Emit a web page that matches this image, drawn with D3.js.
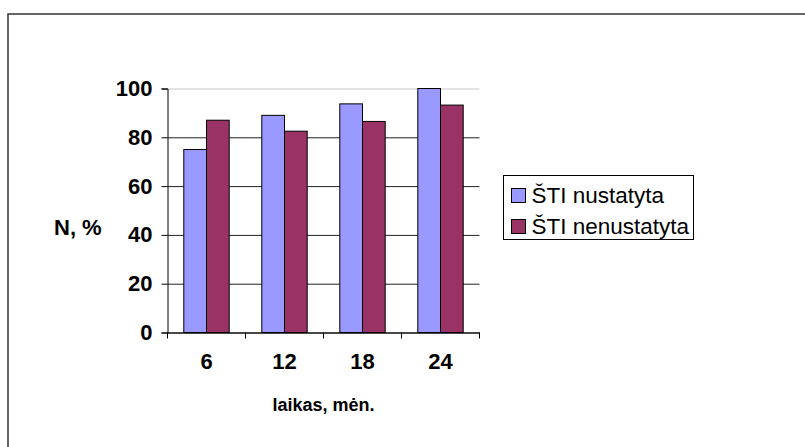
<!DOCTYPE html>
<html lang="lt">
<head>
<meta charset="UTF-8">
<title></title>
<script src="https://d3js.org/d3.v7.min.js"></script>
<style>
body { margin: 0; background: #fff; }
text { font-family: 'Liberation Sans', Arial, sans-serif; fill: #000; }
</style>
</head>
<body>
<svg width="805" height="447"></svg>
<script>
const categories = ['6', '12', '18', '24'];
const seriesNames = ['ŠTI nustatyta', 'ŠTI nenustatyta'];
const nustatyta = [75, 89, 93.7, 100];
const nenustatyta = [87, 82.5, 86.5, 93.2];
const yTicks = [0, 20, 40, 60, 80, 100];
const colors = ['#9999ff', '#993366'];

const data = categories.map((c, i) => ({cat: c, values: [nustatyta[i], nenustatyta[i]]}));

const svg = d3.select('svg');

// outer frame (only left and top edges are visible)
svg.append('path')
  .attr('d', 'M8,447V14H805')
  .attr('fill', 'none')
  .attr('stroke', '#333')
  .attr('stroke-width', 1.5);

const plotL = 167.5, plotR = 479.5, plotT = 88.5, plotB = 332.5;

const x0 = d3.scaleBand().domain(categories).range([plotL, plotR]);
const x1 = d3.scaleBand().domain(seriesNames).range([0, x0.bandwidth()]).paddingInner(0).paddingOuter(0.718);
const y = d3.scaleLinear().domain([0, 100]).range([plotB, plotT]);

// gridlines (the top one is faint in the original)
svg.append('g')
  .attr('transform', `translate(${plotL},0)`)
  .call(d3.axisLeft(y).tickValues(yTicks).tickSize(-(plotR - plotL)).tickFormat(''))
  .call(g => g.select('.domain').remove())
  .call(g => g.selectAll('line').attr('stroke', d => d === 100 ? '#c8c8c8' : '#222'));

// bars
const groups = svg.append('g').selectAll('g').data(data).enter().append('g')
  .attr('transform', d => `translate(${x0(d.cat)},0)`);
groups.selectAll('rect').data(d => d.values).enter().append('rect')
  .attr('x', (v, i) => x1(seriesNames[i]))
  .attr('y', v => y(v))
  .attr('width', x1.bandwidth())
  .attr('height', v => y(0) - y(v))
  .attr('fill', (v, i) => colors[i])
  .attr('stroke', '#000')
  .attr('stroke-width', 1);

// y axis
svg.append('g')
  .attr('transform', `translate(${plotL},0)`)
  .call(d3.axisLeft(y).tickValues(yTicks).tickSize(6).tickPadding(9))
  .call(g => g.select('.domain').attr('stroke', '#000'))
  .call(g => g.selectAll('text')
    .style('font-family', "'Liberation Sans', Arial, sans-serif")
    .style('font-size', '22px').style('font-weight', 'bold'));

// x axis: line, ticks at category boundaries, labels in band centres
const xAxis = svg.append('g').attr('transform', `translate(0,${plotB})`);
xAxis.call(d3.axisBottom(x0).tickSize(0).tickPadding(21).tickSizeOuter(0))
  .call(g => g.select('.domain').attr('stroke', '#000'))
  .call(g => g.selectAll('text')
    .style('font-family', "'Liberation Sans', Arial, sans-serif")
    .style('font-size', '22px').style('font-weight', 'bold'));
const bounds = categories.map(c => x0(c)).concat([plotR]);
xAxis.selectAll('line.bound').data(bounds).enter().append('line')
  .attr('class', 'bound')
  .attr('x1', d => d).attr('x2', d => d)
  .attr('y1', 0).attr('y2', 6)
  .attr('stroke', '#000');

// axis titles
svg.append('text')
  .attr('x', 54).attr('y', 235)
  .style('font-size', '22px').style('font-weight', 'bold')
  .text('N, %');
svg.append('text')
  .attr('x', (plotL + plotR) / 2).attr('y', 411)
  .attr('text-anchor', 'middle')
  .style('font-size', '18px').style('font-weight', 'bold')
  .text('laikas, mėn.');

// legend
const legend = svg.append('g').attr('transform', 'translate(503.5,175.5)');
legend.append('rect')
  .attr('width', 190).attr('height', 64)
  .attr('fill', '#fff').attr('stroke', '#000');
const items = legend.selectAll('g.item').data(seriesNames).enter().append('g')
  .attr('class', 'item')
  .attr('transform', (d, i) => `translate(0,${i * 31})`);
items.append('rect')
  .attr('x', 8).attr('y', 13)
  .attr('width', 14).attr('height', 14)
  .attr('fill', (d, i) => colors[i])
  .attr('stroke', '#000');
items.append('text')
  .attr('x', 28).attr('y', 27)
  .style('font-size', '22.5px')
  .text(d => d);
</script>
</body>
</html>
